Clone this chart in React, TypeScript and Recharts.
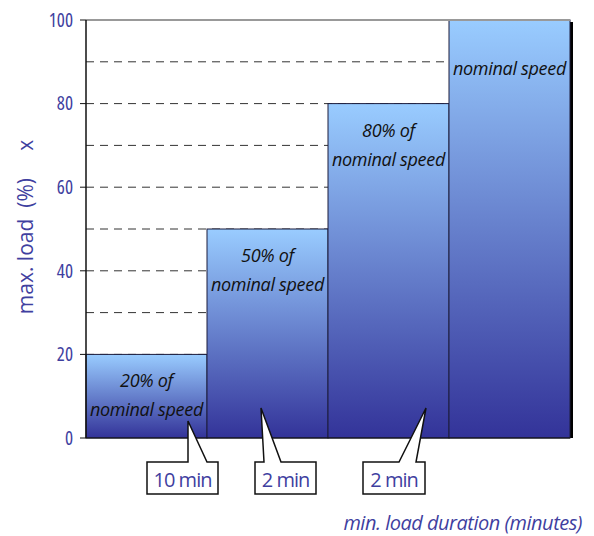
import { BarChart, Bar, XAxis, YAxis, CartesianGrid, ReferenceLine, LabelList, Label } from 'recharts';

const loads = [20, 50, 80, 100];
const durations = ['10 min', '2 min', '2 min', ''];
const yTicks = [0, 20, 40, 60, 80, 100];
const gridLevels = [10, 20, 30, 40, 50, 60, 70, 80, 90];

const data = loads.map((load, i) => ({ step: i, load, duration: durations[i] }));

// callout boxes under the axis: box span, pointer base and tip, relative to each bar
const callouts = [
    { boxL: 61, boxR: 132, baseL: 102, baseR: 121, tipX: 102, tipUp: 17 },
    { boxL: 48, boxR: 109, baseL: 57, baseR: 74, tipX: 54, tipUp: 30 },
    { boxL: 35, boxR: 97, baseL: 71, baseR: 88, tipX: 98, tipUp: 30 },
];

const blue = '#3f3f9f';
const font = '"Open Sans", sans-serif';

const BarWithShadow = (props: any) => {
    const { x, y, width, height } = props;
    return (
        <g>
            <rect x={x + 3} y={y + 2} width={width} height={height - 2} fill="#000" />
            <rect x={x} y={y} width={width} height={height} fill="url(#loadGrad)" stroke="#1c1c3c" strokeWidth={1} />
        </g>
    );
};

const SpeedLabel = (props: any) => {
    const { x, y, width, value } = props;
    const cx = x + width / 2;
    const style = { fontFamily: font, fontStyle: 'italic', fontSize: 18, letterSpacing: -0.3 } as const;
    if (value === 100) {
        return <text x={cx} y={y + 55} textAnchor="middle" fill="#111" style={style}>nominal speed</text>;
    }
    return (
        <g>
            <text x={cx} y={y + 33} textAnchor="middle" fill="#111" style={style}>{`${value}% of`}</text>
            <text x={cx} y={y + 62} textAnchor="middle" fill="#111" style={style}>nominal speed</text>
        </g>
    );
};

const Callout = (props: any) => {
    const { x, y, height, index, value } = props;
    const c = callouts[index];
    if (!c || !value) return null;
    const bottom = y + height;
    const top = bottom + 24;
    const low = bottom + 56;
    const path = `M${x + c.boxL},${top} L${x + c.baseL},${top} L${x + c.tipX},${bottom - c.tipUp} L${x + c.baseR},${top} L${x + c.boxR},${top} L${x + c.boxR},${low} L${x + c.boxL},${low} Z`;
    return (
        <g>
            <path d={path} fill="#fff" stroke="#111" strokeWidth={1.5} strokeLinejoin="miter" />
            <text x={x + (c.boxL + c.boxR) / 2} y={low - 7} textAnchor="middle" fill={blue}
                style={{ fontFamily: font, fontStretch: '88%', fontSize: 20, letterSpacing: -1 }}>{value}</text>
        </g>
    );
};

export default function App() {
    return (
        <div style={{ position: 'absolute', left: 0, top: 0 }}>
            <BarChart width={594} height={536} data={data} barCategoryGap={0}
                margin={{ top: 20, right: 24, bottom: 68, left: 0 }}>
                <defs>
                    <linearGradient id="loadGrad" x1="0" y1="0" x2="0" y2="1">
                        <stop offset="0%" stopColor="#99ccff" />
                        <stop offset="100%" stopColor="#333399" />
                    </linearGradient>
                </defs>
                <CartesianGrid vertical={false} horizontalValues={gridLevels} stroke="#333" strokeDasharray="8 6" />
                <XAxis dataKey="step" tick={false} tickLine={false} axisLine={{ stroke: '#111' }} height={30}>
                    <Label content={() => (
                        <text x={582} y={530} textAnchor="end" fill={blue}
                            style={{ fontFamily: font, fontStyle: 'italic', fontSize: 20, letterSpacing: -0.5 }}>
                            min. load duration (minutes)
                        </text>
                    )} />
                </XAxis>
                <YAxis width={86} domain={[0, 100]} ticks={yTicks} interval={0} tickSize={6} tickMargin={7}
                    axisLine={{ stroke: '#111', strokeWidth: 1.5 }} tickLine={{ stroke: '#111' }}
                    tick={{ fill: blue, fontSize: 19, fontFamily: font, fontStretch: '86%' }}>
                    <Label content={() => (
                        <text x={25} y={227} textAnchor="middle" dominantBaseline="central" fill={blue}
                            transform="rotate(-90 25 227)"
                            style={{ fontFamily: font, fontStretch: '88%', fontSize: 21, whiteSpace: 'pre' }}>
                            {'max. load  (%)     x'}
                        </text>
                    )} />
                </YAxis>
                <Bar dataKey="load" shape={<BarWithShadow />} isAnimationActive={false}>
                    <LabelList dataKey="load" content={<SpeedLabel />} />
                    <LabelList dataKey="duration" content={<Callout />} />
                </Bar>
                <ReferenceLine y={100} stroke="#999" strokeWidth={2} />
            </BarChart>
        </div>
    );
}
